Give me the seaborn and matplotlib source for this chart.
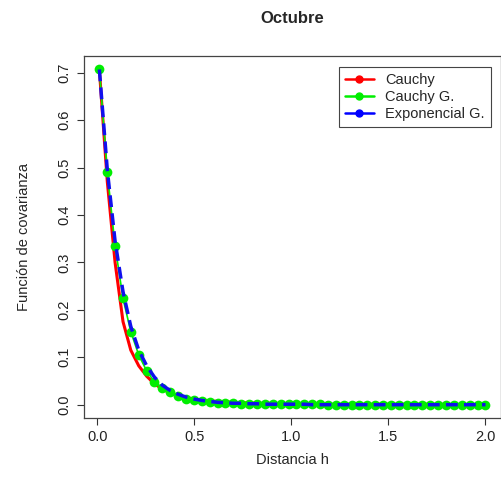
import numpy as np
import pandas as pd
import matplotlib
matplotlib.use("Agg")
import matplotlib.pyplot as plt
from matplotlib.lines import Line2D
import seaborn as sns

# Distances (50 points between 0.01 and 2.0)
dist = [0.010, 0.051, 0.091, 0.132, 0.172, 0.213, 0.254, 0.294, 0.335, 0.375,
        0.416, 0.457, 0.497, 0.538, 0.579, 0.619, 0.660, 0.700, 0.741, 0.782,
        0.822, 0.863, 0.903, 0.944, 0.985, 1.025, 1.066, 1.107, 1.147, 1.188,
        1.228, 1.269, 1.310, 1.350, 1.391, 1.431, 1.472, 1.513, 1.553, 1.594,
        1.634, 1.675, 1.716, 1.756, 1.797, 1.838, 1.878, 1.919, 1.959, 2.000]

# Covariance values
cauchy = [0.707, 0.470, 0.300, 0.175, 0.115, 0.082, 0.060, 0.044, 0.033, 0.025,
          0.019, 0.015, 0.012, 0.010, 0.008, 0.007, 0.006, 0.005, 0.004, 0.004,
          0.003, 0.003, 0.003, 0.002, 0.002, 0.002, 0.002, 0.002, 0.001, 0.001,
          0.001, 0.001, 0.001, 0.001, 0.001, 0.001, 0.001, 0.001, 0.001, 0.001,
          0.001, 0.001, 0.001, 0.001, 0.001, 0.000, 0.000, 0.000, 0.000, 0.000]
cauchy_g = [0.707, 0.490, 0.335, 0.224, 0.154, 0.105, 0.071, 0.048, 0.036, 0.027,
            0.019, 0.013, 0.009, 0.007, 0.005, 0.004, 0.003, 0.003, 0.002, 0.002,
            0.002, 0.001, 0.001, 0.001, 0.001, 0.001, 0.001, 0.001, 0.001, 0.000,
            0.000, 0.000, 0.000, 0.000, 0.000, 0.000, 0.000, 0.000, 0.000, 0.000,
            0.000, 0.000, 0.000, 0.000, 0.000, 0.000, 0.000, 0.000, 0.000, 0.000]
expo_g = [0.707, 0.495, 0.345, 0.238, 0.165, 0.115, 0.082, 0.058, 0.041, 0.030,
          0.022, 0.016, 0.012, 0.009, 0.007, 0.005, 0.004, 0.003, 0.003, 0.002,
          0.002, 0.001, 0.001, 0.001, 0.001, 0.001, 0.001, 0.000, 0.000, 0.000,
          0.000, 0.000, 0.000, 0.000, 0.000, 0.000, 0.000, 0.000, 0.000, 0.000,
          0.000, 0.000, 0.000, 0.000, 0.000, 0.000, 0.000, 0.000, 0.000, 0.000]

df = pd.DataFrame({"h": dist, "Cauchy": cauchy, "Cauchy G.": cauchy_g,
                   "Exponencial G.": expo_g})

sns.set_theme(style="ticks")
plt.rcParams["font.family"] = ["Liberation Sans", "DejaVu Sans"]

fig = plt.figure(figsize=(5.02, 4.97), dpi=100)
ax = fig.add_axes([0.167, 0.159, 0.831, 0.728])

sns.lineplot(data=df, x="h", y="Cauchy", color="#ff0000", lw=2.2, ax=ax)
sns.lineplot(data=df, x="h", y="Cauchy G.", color="#00ee00", lw=1.2, ax=ax,
             marker="o", markersize=7, markeredgewidth=0)
sns.lineplot(data=df, x="h", y="Exponencial G.", color="#1010ee", lw=2.5, ax=ax,
             linestyle=(0, (3.4, 1.8)))

ax.set_xlim(-0.07, 2.08)
ax.set_ylim(-0.028, 0.735)
ax.set_xticks([0.0, 0.5, 1.0, 1.5, 2.0])
ax.set_yticks([0.0, 0.1, 0.2, 0.3, 0.4, 0.5, 0.6, 0.7])
ax.set_xticklabels(["0.0", "0.5", "1.0", "1.5", "2.0"])
ax.set_yticklabels(["0.0", "0.1", "0.2", "0.3", "0.4", "0.5", "0.6", "0.7"],
                   rotation=90, va="center")
ax.tick_params(length=5, width=0.8, color="#333333", labelsize=10.5,
               labelcolor="#222222", pad=4)
for s in ax.spines.values():
    s.set_visible(True)
    s.set_color("#444444")
    s.set_linewidth(0.9)

ax.set_xlabel("Distancia h", fontsize=10.5, labelpad=6)
ax.set_ylabel("Función de covarianza", fontsize=10.5, labelpad=19)
fig.suptitle("Octubre", x=0.583, y=0.978, fontsize=12, fontweight="bold")

handles = [Line2D([], [], color=c, lw=1.8, marker="o", markersize=5)
           for c in ["#ff0000", "#00ee00", "#0000ff"]]
ax.legend(handles, ["Cauchy", "Cauchy G.", "Exponencial G."],
          loc="upper right", fontsize=10.5, frameon=True, fancybox=False,
          edgecolor="#444444", framealpha=1, handlelength=2.0,
          handletextpad=0.8, borderpad=0.4, labelspacing=0.2,
          bbox_to_anchor=(0.993, 0.99))
ax.legend_.get_frame().set_linewidth(0.8)

fig.savefig("out.png", dpi=100)
